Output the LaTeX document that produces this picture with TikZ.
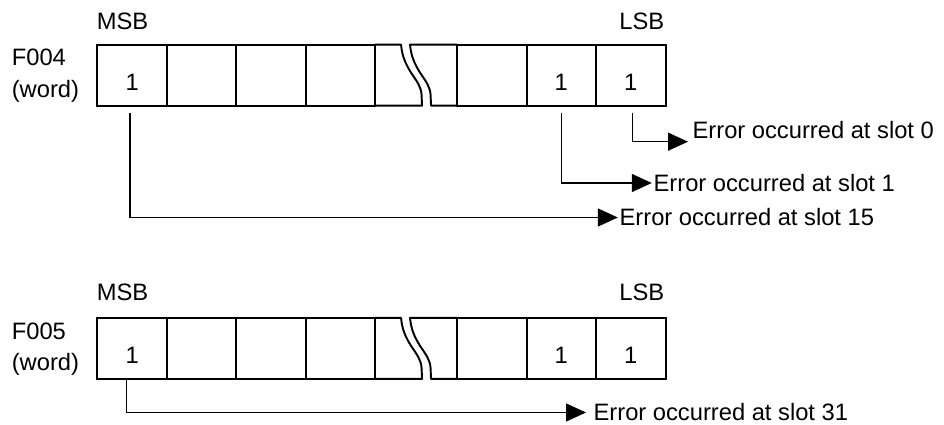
\documentclass[tikz,border=0pt]{standalone}
\usepackage{fontspec}
\setmainfont{Liberation Sans}
\usetikzlibrary{arrows.meta,positioning}

\begin{document}
\begin{tikzpicture}[x=0.02cm,y=-0.02cm,font=\fontsize{13.5}{16}\selectfont]

 \tikzstyle{cell}=[rectangle,draw=black,line width=1.1pt,
inner sep=0cm,minimum width=1.39cm,minimum height=1.22cm]
 \tikzstyle{gap}=[rectangle,inner sep=0cm,minimum width=1.634cm,minimum height=1.22cm]
 \tikzstyle{txt}=[inner sep=0cm]
 \tikzstyle{msg}=[anchor=west,inner sep=0.03cm]
 \tikzstyle{flow}=[line width=0.8pt,-{Triangle[length=0.4cm,width=0.36cm]}]
 \tikzstyle{cut}=[line width=1.1pt,line join=round]

\useasboundingbox (0,0) rectangle (944,425);

% F004 register
\node[cell] (A15) at (132.2,75.5) {};
\node[cell] (A14) [node distance=1.39cm,right of=A15] {};
\node[cell] (A13) [node distance=1.39cm,right of=A14] {};
\node[cell] (A12) [node distance=1.39cm,right of=A13] {};
\node[gap] (Acut) [node distance=1.512cm,right of=A12] {};
\node[cell] (A2) [node distance=1.512cm,right of=Acut] {};
\node[cell] (A1) [node distance=1.39cm,right of=A2] {};
\node[cell] (A0) [node distance=1.39cm,right of=A1] {};

\node (a15) at ([yshift=-0.13cm]A15) {1};
\node (a1) at ([yshift=-0.13cm]A1) {1};
\node (a0) at ([yshift=-0.13cm]A0) {1};

\node[txt] (msbA) [above=0.3cm of A15.north west,anchor=base west] {MSB};
\node[txt] (lsbA) [above=0.3cm of A0.north east,anchor=base east,xshift=-0.04cm] {LSB};
\node[txt,anchor=base west] (regA) at (11.5,66) {F004};
\node[txt,anchor=base west] (wordA) at (11.5,98) {(word)};

% broken part of the word
\begin{scope}[shift={(Acut.north west)}]
\draw[cut] (0,0) -- (26,0) .. controls (27,12) and (31,20) .. (36,28)
  .. controls (42,37) and (46,42) .. (46.5,50) -- (47,61) -- (0,61);
\draw[cut] (81.7,0) -- (35,0) .. controls (36,12) and (40,20) .. (45,28)
  .. controls (51,37) and (55,42) .. (55.5,50) -- (56,61) -- (81.7,61);
\end{scope}

% error messages
\node[msg] (e0) at (690.8,130) {Error occurred at slot 0};
\node[msg] (e1) at (651.8,183) {Error occurred at slot 1};
\node[msg] (e15) at (617.8,217.5) {Error occurred at slot 15};

\draw[flow] ([xshift=0.038cm,yshift=-0.12cm]A0.south) |- ([shift={(-0.056cm,-0.234cm)}]e0.west);
\draw[flow] ([yshift=-0.12cm]A1.south) |- (e1.west);
\draw[flow] ([xshift=-0.044cm,yshift=-0.12cm]A15.south) |- (e15.west);

% F005 register
\node[cell] (B15) at (132.2,348.7) {};
\node[cell] (B14) [node distance=1.39cm,right of=B15] {};
\node[cell] (B13) [node distance=1.39cm,right of=B14] {};
\node[cell] (B12) [node distance=1.39cm,right of=B13] {};
\node[gap] (Bcut) [node distance=1.512cm,right of=B12] {};
\node[cell] (B2) [node distance=1.512cm,right of=Bcut] {};
\node[cell] (B1) [node distance=1.39cm,right of=B2] {};
\node[cell] (B0) [node distance=1.39cm,right of=B1] {};

\node (b15) at ([yshift=-0.13cm]B15) {1};
\node (b1) at ([yshift=-0.13cm]B1) {1};
\node (b0) at ([yshift=-0.13cm]B0) {1};

\node[txt] (msbB) [above=0.33cm of B15.north west,anchor=base west] {MSB};
\node[txt] (lsbB) [above=0.33cm of B0.north east,anchor=base east,xshift=-0.04cm] {LSB};
\node[txt,anchor=base west] (regB) at (11.5,340) {F005};
\node[txt,anchor=base west] (wordB) at (11.5,371) {(word)};

\begin{scope}[shift={(Bcut.north west)}]
\draw[cut] (0,0) -- (26,0) .. controls (27,12) and (31,20) .. (36,28)
  .. controls (42,37) and (46,42) .. (46.5,50) -- (47,61) -- (0,61);
\draw[cut] (81.7,0) -- (35,0) .. controls (36,12) and (40,20) .. (45,28)
  .. controls (51,37) and (55,42) .. (55.5,50) -- (56,61) -- (81.7,61);
\end{scope}

\node[msg] (e31) at (591.8,412.5) {Error occurred at slot 31};
\draw[flow] ([xshift=-0.11cm]B15.south) |- ([xshift=-0.116cm]e31.west);

\end{tikzpicture}
\end{document}
